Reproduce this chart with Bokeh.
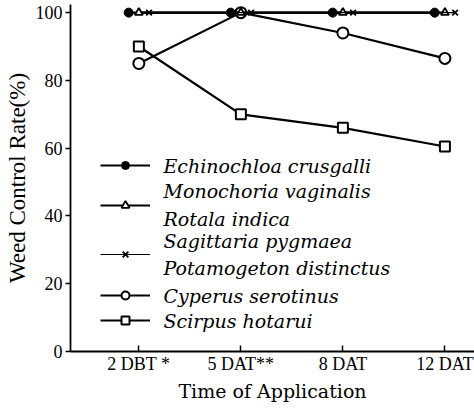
from bokeh.plotting import figure
from bokeh.models import Range1d, FixedTicker, Legend, LegendItem, ColumnDataSource, Label
from bokeh.transform import dodge
from bokeh.embed import file_html
from bokeh.resources import INLINE

times = ["2 DBT *", "5 DAT**", "8 DAT", "12 DAT"]
echinochloa = [100, 100, 100, 100]
monochoria_rotala = [100, 100, 100, 100]
sagittaria_potamogeton = [100, 100, 100, 100]
cyperus = [85, 100, 94, 86.5]
scirpus = [90, 70, 66, 60.5]
y_ticks = [0, 20, 40, 60, 80, 100]

xs = list(range(1, len(times) + 1))

SERIF = "Liberation Serif"
WIDE = "DejaVu Serif"

p = figure(width=474, height=412, output_backend="svg", toolbar_location=None,
           x_range=Range1d(0.33, 4.29), y_range=Range1d(0, 102.4),
           min_border_left=70, min_border_right=0, min_border_top=4, min_border_bottom=61)
p.outline_line_color = None
p.xgrid.visible = False
p.ygrid.visible = False

src = ColumnDataSource(dict(x=xs, e=echinochloa, m=monochoria_rotala, s=sagittaria_potamogeton,
                            c=cyperus, sc=scirpus))

# Scirpus
l_sc = p.line("x", "sc", source=src, line_color="black", line_width=2.2)
m_sc = p.scatter("x", "sc", source=src, marker="square", size=10, fill_color="white",
                 line_color="black", line_width=2)
# Cyperus
l_c = p.line("x", "c", source=src, line_color="black", line_width=2.2)
m_c = p.scatter("x", "c", source=src, marker="circle", size=11, fill_color="white",
                line_color="black", line_width=2)
# 100% series
l_e = p.line(dodge("x", -0.1, range=p.x_range), "e", source=src, line_color="black", line_width=2.2)
m_e = p.scatter(dodge("x", -0.1, range=p.x_range), "e", source=src, marker="circle", size=9,
                fill_color="black", line_color="black")
l_m = p.line("x", "m", source=src, line_color="black", line_width=2.2)
m_m = p.scatter("x", "m", source=src, marker="triangle", size=8, fill_color="white",
                line_color="black", line_width=1.8)
l_s = p.line(dodge("x", 0.1, range=p.x_range), "s", source=src, line_color="black", line_width=1.2)
m_s = p.scatter(dodge("x", 0.1, range=p.x_range), "s", source=src, marker="x", size=8,
                line_color="black", line_width=1.8)

# legend: glyph samples (one Legend per sample, screen units from frame bottom-left)
samples = [([l_e, m_e], 176), ([l_m, m_m], 136), ([l_s, m_s], 87), ([l_c, m_c], 46), ([l_sc, m_sc], 21)]
for rends, vy in samples:
    lg = Legend(items=[LegendItem(label=" ", renderers=rends)], location=(30, vy))
    lg.background_fill_alpha = 0
    lg.border_line_color = None
    lg.padding = 0
    lg.margin = 0
    lg.spacing = 0
    lg.glyph_width = 50
    lg.glyph_height = 20
    lg.label_height = 20
    lg.label_standoff = 0
    lg.label_text_font_size = "2px"
    lg.label_width = 1
    p.add_layout(lg, "center")

legend_lines = [("Echinochloa crusgalli", 186), ("Monochoria vaginalis", 161), ("Rotala indica", 133),
                ("Sagittaria pygmaea", 111), ("Potamogeton distinctus", 84),
                ("Cyperus serotinus", 56), ("Scirpus hotarui", 31)]
for txt, vy in legend_lines:
    p.add_layout(Label(x=93, y=vy, x_units="screen", y_units="screen", text=txt,
                       text_font=WIDE, text_font_style="italic", text_font_size="19px",
                       text_baseline="middle", text_align="left", text_color="black"))

p.xaxis.ticker = FixedTicker(ticks=xs)
p.xaxis.major_label_overrides = {x: t for x, t in zip(xs, times)}
p.yaxis.ticker = FixedTicker(ticks=y_ticks)

p.xaxis.axis_line_width = 1.8
p.yaxis.axis_line_width = 1.8
p.axis.axis_line_color = "black"
p.axis.major_tick_line_color = "black"
p.axis.major_tick_line_width = 1.5
p.axis.minor_tick_line_color = None
p.axis.major_label_text_font = SERIF
p.axis.major_label_text_font_size = "18px"
p.axis.major_label_text_color = "black"
p.axis.axis_label_text_font_style = "normal"
p.axis.axis_label_text_color = "black"

p.xaxis.major_tick_in = 6
p.xaxis.major_tick_out = 0
p.xaxis.major_label_standoff = 2
p.xaxis.axis_label = "Time of Application"
p.xaxis.axis_label_text_font = WIDE
p.xaxis.axis_label_text_font_size = "19px"
p.xaxis.axis_label_standoff = 3
p.yaxis.major_tick_in = 0
p.yaxis.major_tick_out = 5
p.yaxis.major_label_standoff = 3
p.yaxis.axis_label = "Weed Control Rate(%)"
p.yaxis.axis_label_text_font = SERIF
p.yaxis.axis_label_text_font_size = "23px"
p.yaxis.axis_label_standoff = 3

open("out.html", "w").write(file_html(p, INLINE))
